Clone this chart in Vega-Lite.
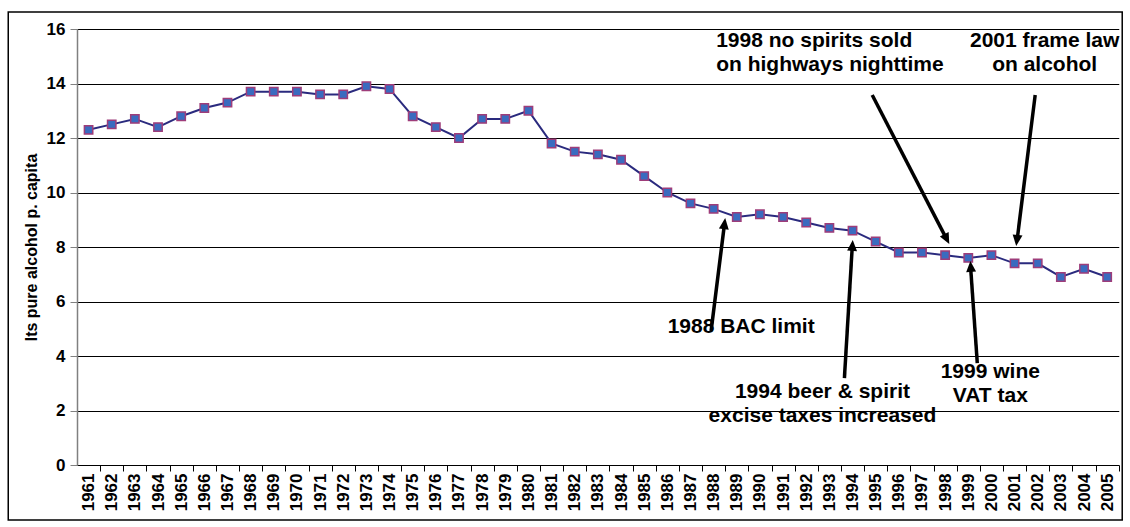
{
  "$schema": "https://vega.github.io/schema/vega-lite/v6.json",
  "width": 1041.75,
  "height": 436,
  "autosize": {"type": "none"},
  "padding": {"left": 77, "top": 29, "right": 11, "bottom": 62},
  "background": "white",
  "config": {
    "view": {"stroke": null},
    "font": "Liberation Sans",
    "axisX": {"labelOverlap": false, "labelBound": false, "labelFlush": false},
    "axisY": {"labelOverlap": false}
  },
  "datasets": {
    "series": [
      {"year": 1961, "value": 12.3}, {"year": 1962, "value": 12.5}, {"year": 1963, "value": 12.7},
      {"year": 1964, "value": 12.4}, {"year": 1965, "value": 12.8}, {"year": 1966, "value": 13.1},
      {"year": 1967, "value": 13.3}, {"year": 1968, "value": 13.7}, {"year": 1969, "value": 13.7},
      {"year": 1970, "value": 13.7}, {"year": 1971, "value": 13.6}, {"year": 1972, "value": 13.6},
      {"year": 1973, "value": 13.9}, {"year": 1974, "value": 13.8}, {"year": 1975, "value": 12.8},
      {"year": 1976, "value": 12.4}, {"year": 1977, "value": 12.0}, {"year": 1978, "value": 12.7},
      {"year": 1979, "value": 12.7}, {"year": 1980, "value": 13.0}, {"year": 1981, "value": 11.8},
      {"year": 1982, "value": 11.5}, {"year": 1983, "value": 11.4}, {"year": 1984, "value": 11.2},
      {"year": 1985, "value": 10.6}, {"year": 1986, "value": 10.0}, {"year": 1987, "value": 9.6},
      {"year": 1988, "value": 9.4}, {"year": 1989, "value": 9.1}, {"year": 1990, "value": 9.2},
      {"year": 1991, "value": 9.1}, {"year": 1992, "value": 8.9}, {"year": 1993, "value": 8.7},
      {"year": 1994, "value": 8.6}, {"year": 1995, "value": 8.2}, {"year": 1996, "value": 7.8},
      {"year": 1997, "value": 7.8}, {"year": 1998, "value": 7.7}, {"year": 1999, "value": 7.6},
      {"year": 2000, "value": 7.7}, {"year": 2001, "value": 7.4}, {"year": 2002, "value": 7.4},
      {"year": 2003, "value": 6.9}, {"year": 2004, "value": 7.2}, {"year": 2005, "value": 6.9}
    ],
    "arrows": [
      {"x": 1987.89, "y": 4.92, "x2": 1988.47, "y2": 8.85},
      {"x": 1993.65, "y": 3.19, "x2": 1993.99, "y2": 8.04},
      {"x": 1999.39, "y": 3.74, "x2": 1999.10, "y2": 7.27},
      {"x": 1994.85, "y": 13.58, "x2": 1998.06, "y2": 8.30},
      {"x": 2001.89, "y": 13.58, "x2": 2001.11, "y2": 8.26}
    ],
    "heads": [
      {"x": 1988.50, "y": 9.06, "angle": 7.1},
      {"x": 1994.01, "y": 8.26, "angle": 3.5},
      {"x": 1999.09, "y": 7.49, "angle": 356.1},
      {"x": 1998.18, "y": 8.11, "angle": 152.7},
      {"x": 2001.07, "y": 8.04, "angle": 187.2}
    ],
    "notesCenter": [
      {"x": 2002.30, "y": 15.35, "label": ["2001 frame law", "on alcohol"]},
      {"x": 1989.19, "y": 4.84, "label": ["1988 BAC limit"]},
      {"x": 1992.70, "y": 2.46, "label": ["1994 beer & spirit", "excise taxes increased"]},
      {"x": 1999.95, "y": 3.19, "label": ["1999 wine", "VAT tax"]}
    ],
    "notesLeft": [
      {"x": 1988.11, "y": 15.35, "label": ["1998 no spirits sold", "on highways nighttime"]}
    ]
  },
  "layer": [
    {
      "data": {"name": "series"},
      "mark": {"type": "line", "color": "#2a2a7e", "strokeWidth": 2},
      "encoding": {
        "x": {
          "field": "year", "type": "quantitative",
          "scale": {"domain": [1960.5, 2005.5], "nice": false, "zero": false},
          "axis": {
            "title": null,
            "tickCount": 45,
            "tickMinStep": 1,
            "format": "d",
            "grid": false,
            "labelAngle": 270,
            "labelAlign": "right",
            "labelBaseline": "middle",
            "labelFontSize": 17,
            "labelFontWeight": "bold",
            "labelColor": "#000",
            "labelPadding": 2,
            "labelOverlap": false,
            "labelFlush": false,
            "labelBound": false,
            "tickOffset": 11.575,
            "labelOffset": -11.575,
            "tickSize": 6,
            "tickColor": "#000",
            "domainColor": "#000",
            "domainWidth": 1.2
          }
        },
        "y": {
          "field": "value", "type": "quantitative",
          "scale": {"domain": [0, 16], "nice": false},
          "axis": {
            "title": "lts pure alcohol p. capita",
            "titleFontSize": 16,
            "titleFontWeight": "bold",
            "titleColor": "#000",
            "titlePadding": 7,
            "values": [0, 2, 4, 6, 8, 10, 12, 14, 16],
            "labelFontSize": 17,
            "labelFontWeight": "bold",
            "labelColor": "#000",
            "labelPadding": 5,
            "tickSize": 7,
            "tickColor": "#808080",
            "domainColor": "#808080",
            "domainWidth": 1.5,
            "grid": true,
            "gridColor": "#000",
            "gridWidth": 1
          }
        }
      }
    },
    {
      "data": {"name": "series"},
      "mark": {"type": "point", "shape": "square", "filled": true, "size": 70, "fill": "#3a6bbf", "stroke": "#9e3d7a", "strokeWidth": 1.5, "opacity": 1},
      "encoding": {
        "x": {"field": "year", "type": "quantitative"},
        "y": {"field": "value", "type": "quantitative"}
      }
    },
    {
      "data": {"name": "arrows"},
      "mark": {"type": "rule", "color": "#000", "strokeWidth": 3.5},
      "encoding": {
        "x": {"field": "x", "type": "quantitative"},
        "y": {"field": "y", "type": "quantitative"},
        "x2": {"field": "x2"},
        "y2": {"field": "y2"}
      }
    },
    {
      "data": {"name": "heads"},
      "mark": {"type": "point", "shape": "M0,0L-0.45,1L0.45,1Z", "filled": true, "size": 484, "color": "#000", "opacity": 1},
      "encoding": {
        "x": {"field": "x", "type": "quantitative"},
        "y": {"field": "y", "type": "quantitative"},
        "angle": {"field": "angle", "type": "quantitative", "scale": null}
      }
    },
    {
      "data": {"name": "notesCenter"},
      "mark": {"type": "text", "fontSize": 21, "fontWeight": "bold", "align": "center", "baseline": "alphabetic", "lineHeight": 24, "color": "#000"},
      "encoding": {
        "x": {"field": "x", "type": "quantitative"},
        "y": {"field": "y", "type": "quantitative"},
        "text": {"field": "label"}
      }
    },
    {
      "data": {"name": "notesLeft"},
      "mark": {"type": "text", "fontSize": 21, "fontWeight": "bold", "align": "left", "baseline": "alphabetic", "lineHeight": 24, "color": "#000"},
      "encoding": {
        "x": {"field": "x", "type": "quantitative"},
        "y": {"field": "y", "type": "quantitative"},
        "text": {"field": "label"}
      }
    },
    {
      "data": {"values": [{}]},
      "mark": {"type": "rect", "fill": null, "filled": false, "stroke": "#000", "strokeWidth": 1.5},
      "encoding": {
        "x": {"datum": 1957.53},
        "x2": {"datum": 2005.65},
        "y": {"datum": -2.02},
        "y2": {"datum": 16.62}
      }
    }
  ]
}
